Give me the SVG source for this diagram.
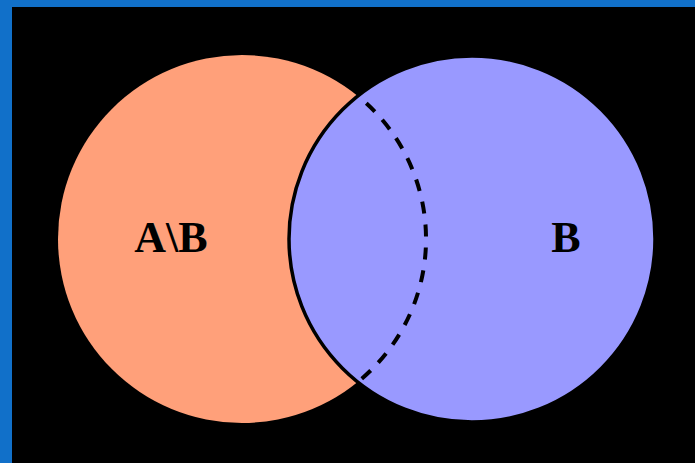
<svg xmlns="http://www.w3.org/2000/svg" width="695" height="463" viewBox="0 0 695 463">
<style>
.lbl{font-family:"Liberation Serif","Times New Roman",serif;font-weight:bold;font-size:44px;fill:#000;text-anchor:middle}
</style>
<rect x="0" y="0" width="695" height="463" fill="#1170c9"/>
<rect x="12" y="7" width="683" height="456" fill="#000"/>
<g id="setA">
<circle cx="242" cy="239" r="184" fill="#ffa07a"/>
<text class="lbl" x="171" y="252">A\B</text>
</g>
<g id="setB">
<circle cx="472" cy="239" r="183" fill="#9999ff" stroke="#000" stroke-width="3.5"/>
<text class="lbl" x="566" y="252">B</text>
</g>
<g id="connectors">
<path d="M 366.3 103.3 A 184 184 0 0 1 357.8 382" fill="none" stroke="#000" stroke-width="4" stroke-dasharray="12 11"/>
</g>
</svg>
